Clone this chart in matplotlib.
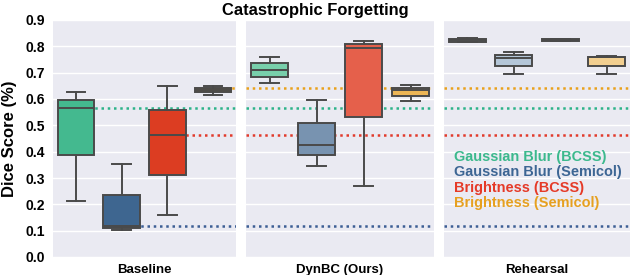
import matplotlib
matplotlib.use("Agg")
import matplotlib.pyplot as plt

plt.rcParams['font.family'] = ['Liberation Sans', 'DejaVu Sans']
plt.rcParams['font.weight'] = 'bold'

methods = ["Baseline", "DynBC (Ours)", "Rehearsal"]
series = ["Gaussian Blur (BCSS)", "Gaussian Blur (Semicol)", "Brightness (BCSS)", "Brightness (Semicol)"]

# box summaries: [whisker low, q1, median, q3, whisker high]
baseline = [
    [0.212, 0.389, 0.567, 0.597, 0.627],
    [0.104, 0.109, 0.118, 0.236, 0.353],
    [0.159, 0.313, 0.464, 0.557, 0.648],
    [0.614, 0.627, 0.634, 0.643, 0.648],
]
dynbc = [
    [0.662, 0.684, 0.709, 0.736, 0.761],
    [0.346, 0.386, 0.426, 0.510, 0.595],
    [0.271, 0.531, 0.793, 0.808, 0.821],
    [0.591, 0.611, 0.634, 0.643, 0.652],
]
rehearsal = [
    [0.816, 0.817, 0.824, 0.828, 0.831],
    [0.695, 0.726, 0.756, 0.768, 0.777],
    [0.821, 0.821, 0.824, 0.826, 0.827],
    [0.695, 0.726, 0.761, 0.761, 0.765],
]
data = [baseline, dynbc, rehearsal]

box_colors = [
    ["#44b98f", "#3e6690", "#dc3d22", "#e6a020"],
    ["#78cfab", "#7893b0", "#e5604b", "#ecb555"],
    ["#a9dcc8", "#b4c6d8", "#f0a090", "#f2cf90"],
]
series_colors = ["#3cb98d", "#3d6694", "#e53a28", "#e6a020"]
ref_colors = ["#2db38a", "#3c5e94", "#e23b2c", "#e9a11c"]
ref_vals = [b[2] for b in baseline]
ref_vals[3] = 0.640

fig = plt.figure(figsize=(6.31, 2.75), dpi=100)
lefts = [53, 246, 444]
rights = [236, 434, 630]
W, H = 631, 275
top, bottom = 20, 257
axes = []
for i in range(3):
    ax = fig.add_axes([lefts[i] / W, 1 - bottom / H, (rights[i] - lefts[i]) / W, (bottom - top) / H])
    ax.set_facecolor("#eaeaf2")
    for s in ax.spines.values():
        s.set_visible(False)
    ax.set_ylim(0, 0.9)
    ax.set_xlim(-0.5, 3.5)
    ax.set_yticks([0.0, 0.1, 0.2, 0.3, 0.4, 0.5, 0.6, 0.7, 0.8, 0.9])
    ax.grid(axis='y', color='white', linewidth=1.0, zorder=0)
    ax.set_axisbelow(True)
    ax.set_xticks([])
    ax.tick_params(axis='y', length=0, labelsize=10, pad=6)
    if i > 0:
        ax.set_yticklabels([])
    else:
        ax.set_yticklabels([f"{v:.1f}" for v in ax.get_yticks()], fontweight='bold')
    ax.set_xlabel(methods[i], fontsize=9.5, fontweight='bold', labelpad=5)

    stats = []
    for j, b in enumerate(data[i]):
        stats.append(dict(whislo=b[0], q1=b[1], med=b[2], q3=b[3], whishi=b[4], fliers=[]))
    lc = "#4a4a4a"
    bp = ax.bxp(stats, positions=range(4), widths=0.8, patch_artist=True, showfliers=False,
                capwidths=0.4,
                boxprops=dict(edgecolor=lc, linewidth=1.4),
                medianprops=dict(color=lc, linewidth=1.4),
                whiskerprops=dict(color=lc, linewidth=1.4),
                capprops=dict(color=lc, linewidth=1.4),
                manage_ticks=False, zorder=3)
    for j, patch in enumerate(bp['boxes']):
        patch.set_facecolor(box_colors[i][j])

    for j in range(4):
        if i == 0:
            ax.hlines(ref_vals[j], j, 3.5, colors=ref_colors[j], linestyles=(0, (1, 1.5)),
                      linewidth=1.8, zorder=2)
        else:
            ax.hlines(ref_vals[j], -0.5, 3.5, colors=ref_colors[j], linestyles=(0, (1, 1.5)),
                      linewidth=1.8, zorder=2)
    axes.append(ax)

axes[0].set_ylabel("Dice Score (%)", fontsize=12, fontweight='bold', labelpad=6)

renderer = fig.canvas.get_renderer()

legend_texts = []
for j, name in enumerate(series):
    t = axes[2].text(454, H - (157 + 15.3 * j), name, transform=None, color=series_colors[j],
                     fontsize=10, fontweight='bold', va='center', ha='left')
    legend_texts.append(t)
w0 = legend_texts[0].get_window_extent(renderer).width
fs = 10 * 152 / w0
for t in legend_texts:
    t.set_fontsize(fs)

title = fig.text(0.5, 1 - 11 / H, "Catastrophic Forgetting", ha='center', va='center',
                 fontsize=10, fontweight='bold')
tw = title.get_window_extent(renderer).width
title.set_fontsize(10 * 187 / tw)

fig.savefig("out.png", dpi=100)
